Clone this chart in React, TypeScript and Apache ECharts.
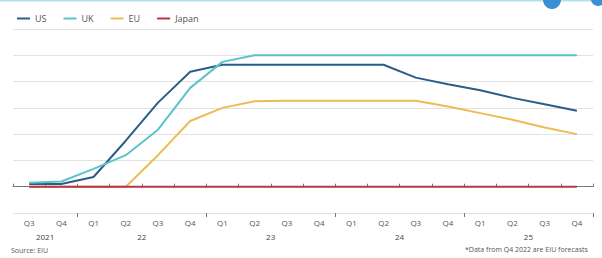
import React, { useEffect, useRef } from "react";
import * as echarts from "echarts";

const QUARTERS = ["Q3", "Q4", "Q1", "Q2", "Q3", "Q4", "Q1", "Q2", "Q3", "Q4", "Q1", "Q2", "Q3", "Q4", "Q1", "Q2", "Q3", "Q4"];
const YEAR_LABELS = ["2021", "", "", "22", "", "", "", "23", "", "", "", "24", "", "", "", "25", "", ""];
const YEAR_START_INDEX = [2, 6, 10, 14];

const US = [0.1, 0.1, 0.37, 1.75, 3.2, 4.37, 4.64, 4.64, 4.64, 4.64, 4.64, 4.64, 4.15, 3.9, 3.67, 3.38, 3.14, 2.89];
const UK = [0.15, 0.2, 0.68, 1.2, 2.17, 3.76, 4.75, 5.0, 5.0, 5.0, 5.0, 5.0, 5.0, 5.0, 5.0, 5.0, 5.0, 5.0];
const EU = [0, 0, 0, 0, 1.2, 2.5, 3.0, 3.25, 3.27, 3.27, 3.27, 3.27, 3.27, 3.05, 2.8, 2.55, 2.25, 2.0];
const JAPAN = [0, 0, 0, 0, 0, 0, 0, 0, 0, 0, 0, 0, 0, 0, 0, 0, 0, 0];

const SOURCE = "Source: EIU";
const NOTE = "*Data from Q4 2022 are EIU forecasts";

const FONT = "'Open Sans', 'Noto Sans', sans-serif";

export default function App() {
  const ref = useRef<HTMLDivElement>(null);
  useEffect(() => {
    if (!ref.current) return;
    const chart = echarts.init(ref.current, null, { renderer: "svg" });
    const mk = (name: string, data: number[], color: string) => ({
      name,
      type: "line",
      data,
      symbol: "none",
      lineStyle: { color, width: 2 },
      itemStyle: { color },
      xAxisIndex: 0,
      yAxisIndex: 0,
    });
    chart.setOption({
      animation: false,
      backgroundColor: "#ffffff",
      textStyle: { fontFamily: FONT },
      legend: {
        left: 12,
        top: 9,
        icon: "rect",
        itemWidth: 13,
        itemHeight: 2,
        itemGap: 17,
        textStyle: { fontSize: 9, color: "#555", fontFamily: FONT },
        data: ["US", "UK", "EU", "Japan"],
      },
      grid: { left: 13, right: 9, top: 29, bottom: 45 },
      xAxis: [
        {
          type: "category",
          data: QUARTERS,
          boundaryGap: true,
          axisLine: { lineStyle: { color: "#777", width: 1 } },
          axisTick: { show: true, inside: true, length: 3, interval: 0, lineStyle: { color: "#777" } },
          axisLabel: { interval: 0, fontSize: 8, color: "#555", margin: 5, fontFamily: FONT },
        },
        {
          type: "category",
          data: QUARTERS,
          boundaryGap: true,
          position: "bottom",
          axisLine: { show: false },
          axisTick: {
            show: true,
            length: 4,
            interval: (i: number) => YEAR_START_INDEX.includes(i),
            lineStyle: { color: "#777" },
          },
          axisLabel: {
            interval: (i: number) => YEAR_LABELS[i] !== "",
            formatter: (_v: string, i: number) => YEAR_LABELS[i],
            fontSize: 8,
            color: "#444",
            margin: 19,
            padding: [0, 0, 0, 32],
            fontFamily: FONT,
          },
        },
      ],
      yAxis: {
        type: "value",
        min: -1,
        max: 6,
        interval: 1,
        axisLabel: { show: false },
        axisLine: { show: false },
        axisTick: { show: false },
        splitLine: { lineStyle: { color: "#e2e2e2", width: 1 } },
      },
      series: [
        mk("US", US, "#2a5d8a"),
        mk("UK", UK, "#5cc2cc"),
        mk("EU", EU, "#ecbc54"),
        mk("Japan", JAPAN, "#b8344c"),
      ],
      graphic: [
        { type: "rect", shape: { x: 0, y: 0, width: 602, height: 1.5 }, style: { fill: "#b4e0ea" } },
        { type: "circle", shape: { cx: 552, cy: 0, r: 9 }, style: { fill: "#3c8fd2" } },
        { type: "circle", shape: { cx: 598, cy: -1, r: 7 }, style: { fill: "#3c8fd2" } },
        {
          type: "text",
          left: 11,
          top: 247,
          style: { text: SOURCE, fontSize: 7, fill: "#555", fontFamily: FONT },
        },
        {
          type: "text",
          x: 465,
          y: 246,
          style: { text: NOTE, fontSize: 7, fill: "#555", fontFamily: FONT },
        },
      ],
    });
    return () => chart.dispose();
  }, []);
  return <div ref={ref} style={{ width: 602, height: 258, position: "fixed", left: 0, top: 0 }} />;
}
